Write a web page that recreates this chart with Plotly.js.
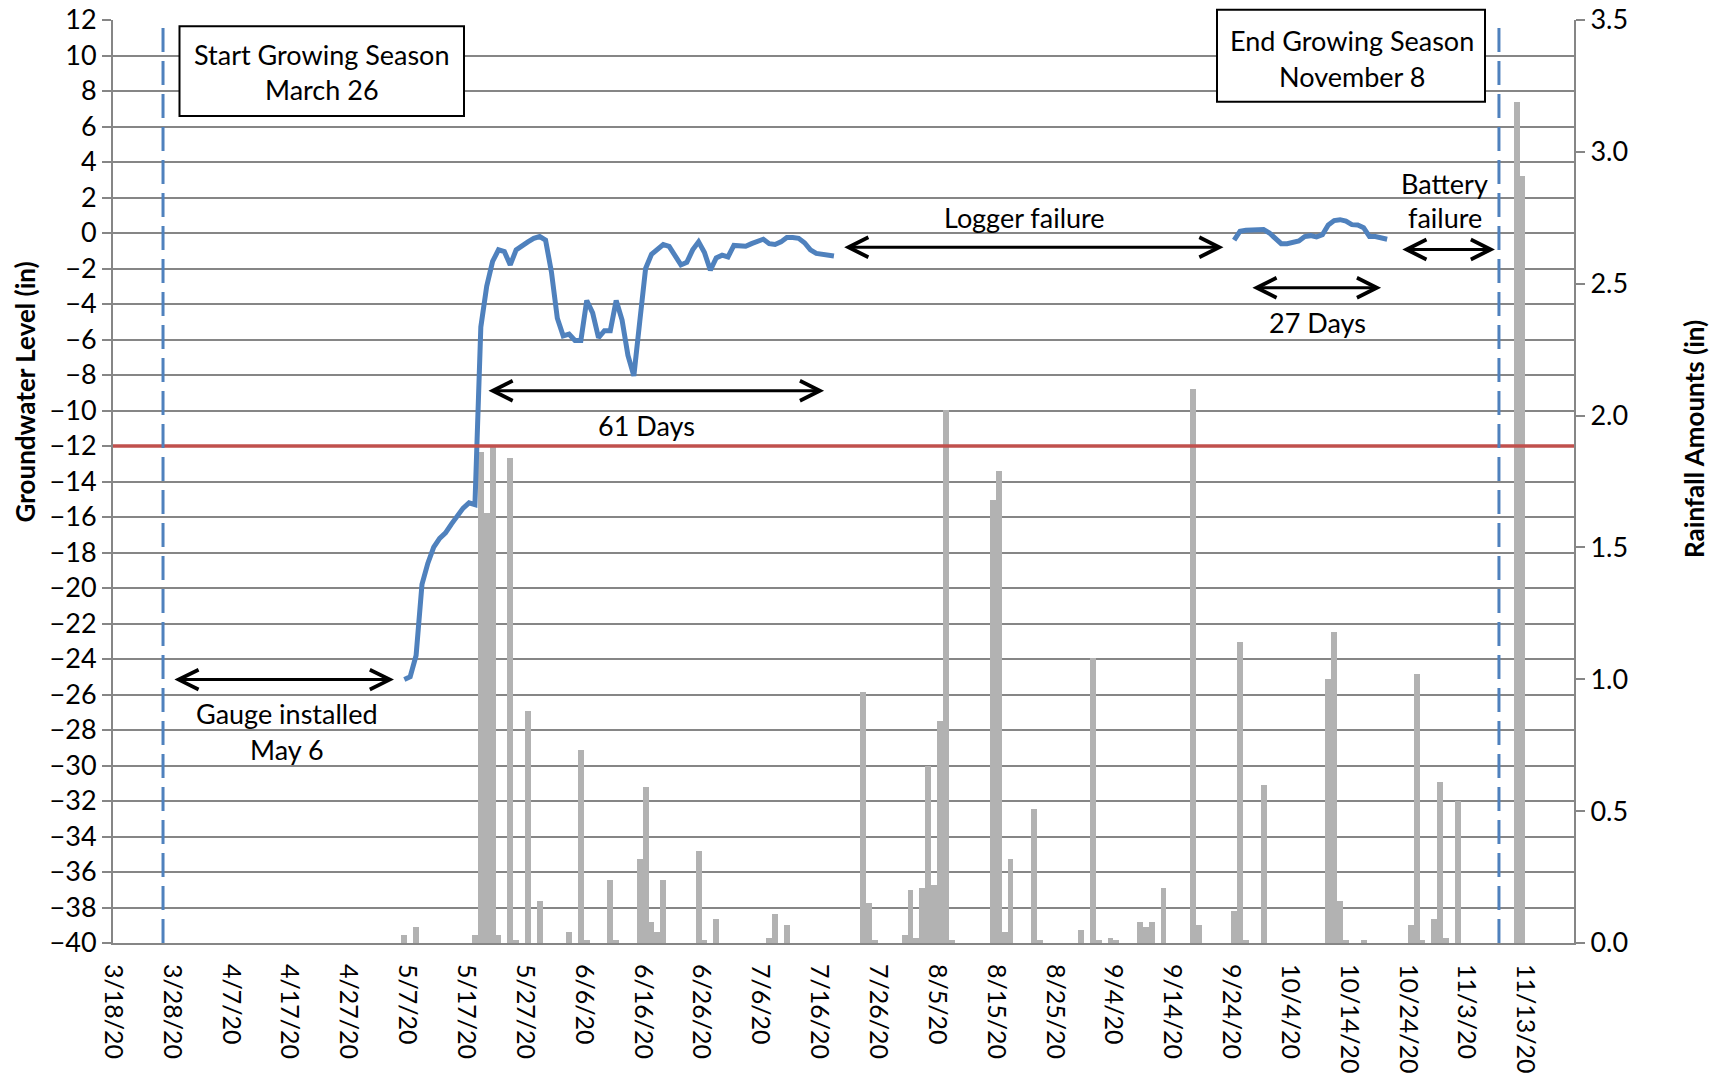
<!DOCTYPE html>
<html><head><meta charset="utf-8">
<script src="https://cdn.plot.ly/plotly-3.0.1.min.js"></script>
<style>html,body{margin:0;padding:0;background:#fff;} #chart{width:1716px;height:1078px;}</style>
</head><body><div id="chart"></div>
<script>
// ---- data ----
const rainDates = ['2020-05-06','2020-05-08','2020-05-18','2020-05-19','2020-05-20','2020-05-21','2020-05-22','2020-05-24','2020-05-25','2020-05-27','2020-05-29','2020-06-03','2020-06-05','2020-06-06','2020-06-10','2020-06-11','2020-06-15','2020-06-16','2020-06-17','2020-06-18','2020-06-19','2020-06-25','2020-06-26','2020-06-28','2020-07-07','2020-07-08','2020-07-10','2020-07-23','2020-07-24','2020-07-25','2020-07-30','2020-07-31','2020-08-01','2020-08-02','2020-08-03','2020-08-04','2020-08-05','2020-08-06','2020-08-07','2020-08-14','2020-08-15','2020-08-16','2020-08-17','2020-08-21','2020-08-22','2020-08-29','2020-08-31','2020-09-01','2020-09-03','2020-09-04','2020-09-08','2020-09-09','2020-09-10','2020-09-12','2020-09-17','2020-09-18','2020-09-24','2020-09-25','2020-09-26','2020-09-29','2020-10-10','2020-10-11','2020-10-12','2020-10-13','2020-10-16','2020-10-24','2020-10-25','2020-10-26','2020-10-28','2020-10-29','2020-10-30','2020-11-01','2020-11-11','2020-11-12'];
const rainValues = [0.03,0.06,0.03,1.86,1.63,1.88,0.03,1.84,0.01,0.88,0.16,0.04,0.73,0.01,0.24,0.01,0.32,0.59,0.08,0.04,0.24,0.35,0.01,0.09,0.02,0.11,0.07,0.95,0.15,0.01,0.03,0.20,0.02,0.21,0.67,0.22,0.84,2.02,0.01,1.68,1.79,0.04,0.32,0.51,0.01,0.05,1.08,0.01,0.02,0.01,0.08,0.06,0.08,0.21,2.10,0.07,0.12,1.14,0.01,0.60,1.00,1.18,0.16,0.01,0.01,0.07,1.02,0.01,0.09,0.61,0.02,0.54,3.19,2.91];

const gwDates1 = ['2020-05-06','2020-05-07','2020-05-08','2020-05-09','2020-05-10','2020-05-11','2020-05-12','2020-05-13','2020-05-14','2020-05-15','2020-05-16','2020-05-17','2020-05-18','2020-05-19','2020-05-20','2020-05-21','2020-05-22','2020-05-23','2020-05-24','2020-05-25','2020-05-26','2020-05-27','2020-05-28','2020-05-29','2020-05-30','2020-05-31','2020-06-01','2020-06-02','2020-06-03','2020-06-04','2020-06-05','2020-06-06','2020-06-07','2020-06-08','2020-06-09','2020-06-10','2020-06-11','2020-06-12','2020-06-13','2020-06-14','2020-06-15','2020-06-16','2020-06-17','2020-06-18','2020-06-19','2020-06-20','2020-06-21','2020-06-22','2020-06-23','2020-06-24','2020-06-25','2020-06-26','2020-06-27','2020-06-28','2020-06-29','2020-06-30','2020-07-01','2020-07-02','2020-07-03','2020-07-04','2020-07-05','2020-07-06','2020-07-07','2020-07-08','2020-07-09','2020-07-10','2020-07-11','2020-07-12','2020-07-13','2020-07-14','2020-07-15','2020-07-16','2020-07-17','2020-07-18'];
const gwValues1 = [-25.15,-25.0,-23.8,-19.8,-18.6,-17.7,-17.2,-16.9,-16.4,-15.9,-15.5,-15.2,-15.3,-5.3,-3.0,-1.6,-0.95,-1.05,-1.8,-0.95,-0.7,-0.5,-0.3,-0.2,-0.4,-2.2,-4.8,-5.8,-5.7,-6.05,-6.05,-3.8,-4.5,-5.9,-5.5,-5.5,-3.8,-4.9,-6.9,-8.05,-5.0,-2.0,-1.2,-0.9,-0.65,-0.75,-1.3,-1.8,-1.65,-0.95,-0.5,-1.1,-2.1,-1.4,-1.25,-1.35,-0.7,-0.75,-0.75,-0.6,-0.5,-0.35,-0.6,-0.65,-0.5,-0.25,-0.25,-0.3,-0.55,-0.95,-1.15,-1.2,-1.2,-1.3];

const gwDates2 = ['2020-09-24','2020-09-25','2020-09-26','2020-09-27','2020-09-28','2020-09-29','2020-09-30','2020-10-01','2020-10-02','2020-10-03','2020-10-04','2020-10-05','2020-10-06','2020-10-07','2020-10-08','2020-10-09','2020-10-10','2020-10-11','2020-10-12','2020-10-13','2020-10-14','2020-10-15','2020-10-16','2020-10-17','2020-10-18','2020-10-19','2020-10-20'];
const gwValues2 = [-0.4,0.1,0.15,0.16,0.2,0.2,0.0,-0.35,-0.6,-0.6,-0.55,-0.45,-0.2,-0.15,-0.22,-0.1,0.45,0.7,0.75,0.67,0.47,0.45,0.3,-0.2,-0.2,-0.25,-0.35];

const tickDates = ['2020-03-18','2020-03-28','2020-04-07','2020-04-17','2020-04-27','2020-05-07','2020-05-17','2020-05-27','2020-06-06','2020-06-16','2020-06-26','2020-07-06','2020-07-16','2020-07-26','2020-08-05','2020-08-15','2020-08-25','2020-09-04','2020-09-14','2020-09-24','2020-10-04','2020-10-14','2020-10-24','2020-11-03','2020-11-13'];
const tickLabels = ['3/18/20','3/28/20','4/7/20','4/17/20','4/27/20','5/7/20','5/17/20','5/27/20','6/6/20','6/16/20','6/26/20','7/6/20','7/16/20','7/26/20','8/5/20','8/15/20','8/25/20','9/4/20','9/14/20','9/24/20','10/4/20','10/14/20','10/24/20','11/3/20','11/13/20'];

const seasonStart = '2020-03-26 12:00';
const seasonEnd = '2020-11-08 12:00';
const threshold = -12;

// ---- layout helpers (pixel -> paper) ----
const ML = 113, MR = 142, MT = 20, MB = 135, FW = 1716, FH = 1078;
const PW = FW - ML - MR, PH = FH - MT - MB;
const px = x => (x - ML) / PW;
const py = y => 1 - (y - MT) / PH;

const FONT = 'Lato, "Open Sans", sans-serif';
const GRID = '#868686';
const BLUE = '#4F81BD';

const traces = [
  {type:'bar', x:rainDates, y:rainValues, yaxis:'y', xperiod:86400000, xperiodalignment:'middle',
   marker:{color:'#B2B2B2', line:{width:0}}, hoverinfo:'x+y'},
  {type:'scatter', mode:'lines', x:gwDates1, y:gwValues1, yaxis:'y2', xperiod:86400000, xperiodalignment:'middle',
   line:{color:BLUE, width:5}},
  {type:'scatter', mode:'lines', x:gwDates2, y:gwValues2, yaxis:'y2', xperiod:86400000, xperiodalignment:'middle',
   line:{color:BLUE, width:5}}
];

function txt(t, cx, cy, size, extra) {
  return Object.assign({xref:'paper', yref:'paper', x:px(cx), y:py(cy), text:t, showarrow:false,
    xanchor:'center', yanchor:'middle', font:{family:FONT, size:size||27, color:'#000'}}, extra||{});
}
function arrow(x1, x2, y) {
  return {xref:'paper', yref:'paper', x:px(x2), y:py(y), ax:x1 - x2, ay:0, axref:'pixel', ayref:'pixel',
    text:'', showarrow:true, arrowhead:5, startarrowhead:5, arrowside:'end+start',
    arrowsize:1.3, startarrowsize:1.3, arrowwidth:3, arrowcolor:'#000', standoff:0, startstandoff:0};
}

const annotations = [
  txt('Start Growing Season', 321.7, 54.7),
  txt('March 26', 321.7, 89.7),
  txt('End Growing Season', 1351.6, 40.5),
  txt('November 8', 1351.6, 76.6),
  txt('Logger failure', 1024.4, 217.8),
  txt('61 Days', 646.8, 425.7),
  txt('27 Days', 1317.7, 322.8),
  txt('Battery', 1444.6, 183.9),
  txt('failure', 1444.6, 217.8),
  txt('Gauge installed', 286.7, 713.6),
  txt('May 6', 286.7, 749.7),
  txt('<b>Groundwater Level (in)</b>', 25, 392.4, 26, {textangle:-90}),
  txt('<b>Rainfall Amounts (in)</b>', 1694, 438.9, 26, {textangle:-90}),
  arrow(172.9, 394, 679.6),
  arrow(487, 824.1, 390.7),
  arrow(842.7, 1223.5, 247.3),
  arrow(1250.9, 1381.1, 287.8),
  arrow(1400.8, 1495, 249.5)
];

const shapes = [
  {type:'line', xref:'paper', x0:0, x1:1, yref:'y2', y0:threshold, y1:threshold, line:{color:'#C0504D', width:3.5}, layer:'above'},
  {type:'line', xref:'x', x0:seasonStart, x1:seasonStart, yref:'paper', y0:0, y1:1, line:{color:BLUE, width:3, dash:'24px,9px'}, layer:'above'},
  {type:'line', xref:'x', x0:seasonEnd, x1:seasonEnd, yref:'paper', y0:0, y1:1, line:{color:BLUE, width:3, dash:'24px,9px'}, layer:'above'},
  {type:'rect', xref:'paper', yref:'paper', x0:px(179.5), x1:px(464), y0:py(116), y1:py(26.3), line:{color:'#000', width:2}, fillcolor:'#fff', layer:'above'},
  {type:'rect', xref:'paper', yref:'paper', x0:px(1217), x1:px(1485), y0:py(101.8), y1:py(9.8), line:{color:'#000', width:2}, fillcolor:'#fff', layer:'above'}
];

const layout = {
  width:FW, height:FH,
  margin:{l:ML, r:MR, t:MT, b:MB, pad:0},
  paper_bgcolor:'#fff', plot_bgcolor:'#fff',
  showlegend:false, bargap:0,
  font:{family:FONT, color:'#000'},
  xaxis:{type:'date', range:['2020-03-18','2020-11-21 06:00'], tickmode:'array', tickvals:tickDates, ticktext:tickLabels,
    tickangle:90, tickfont:{size:25, family:FONT, color:'#000'}, showgrid:false, showline:true, linecolor:GRID, linewidth:2,
    ticks:'', zeroline:false, ticklabelstandoff:14, automargin:false, fixedrange:true},
  yaxis:{range:[0,3.5], dtick:0.5, tick0:0, tickformat:'.1f', side:'right', showgrid:false, showline:true, linecolor:GRID, linewidth:2,
    ticks:'outside', ticklen:9, tickwidth:2, tickcolor:GRID, tickfont:{size:27, family:FONT, color:'#000'}, zeroline:false, automargin:false},
  yaxis2:{range:[-40,12], dtick:2, tick0:-40, side:'left', overlaying:'y', showgrid:true, gridcolor:GRID, gridwidth:2,
    showline:true, linecolor:GRID, linewidth:2, ticks:'outside', ticklen:9, tickwidth:2, tickcolor:GRID,
    tickfont:{size:27, family:FONT, color:'#000'}, zeroline:false, automargin:false},
  shapes:shapes,
  annotations:annotations
};

Plotly.newPlot('chart', traces, layout, {displayModeBar:false, staticPlot:true});
</script>
</body></html>
